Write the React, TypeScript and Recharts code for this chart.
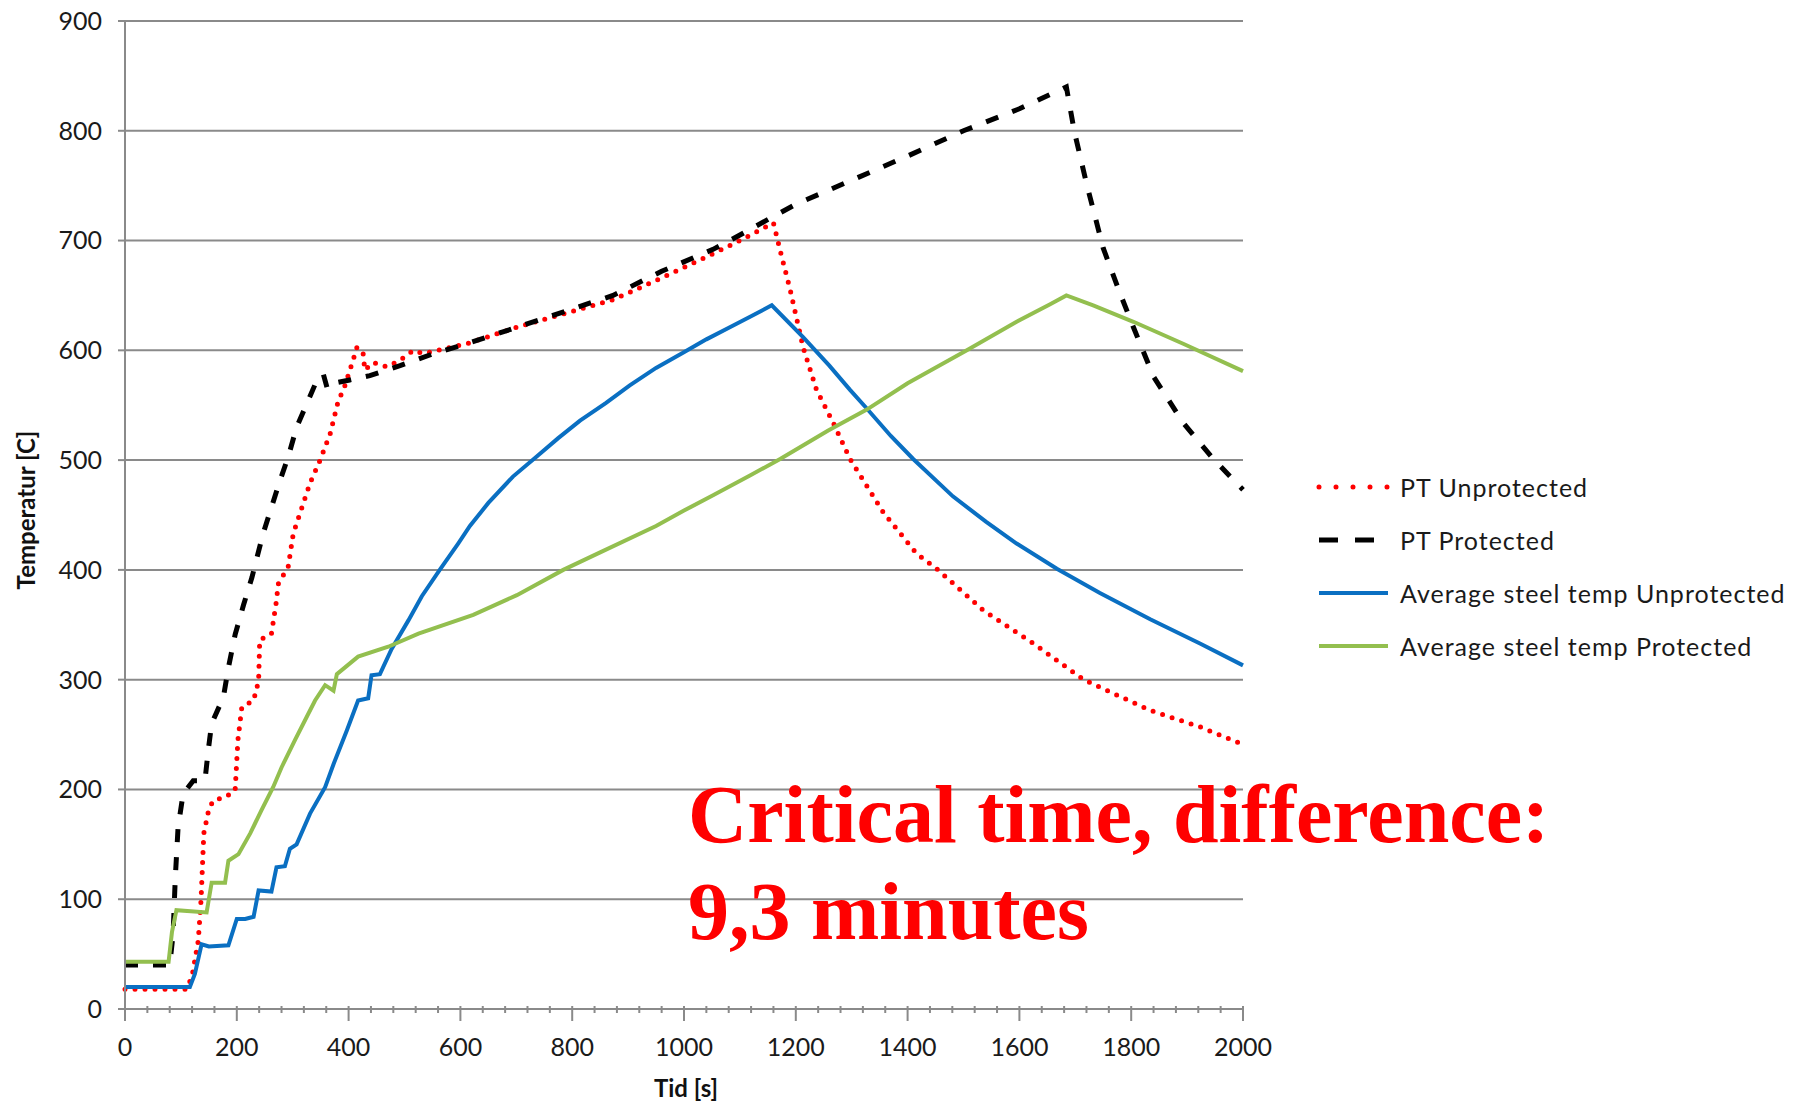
import { LineChart, Line, XAxis, YAxis, CartesianGrid, Legend } from "recharts"

// [time s, temperature C]
const ptUnprotected: [number, number][] = [
  [0, 18], [110, 18], [120, 30], [131, 62], [136, 99], [141, 160], [150, 182], [158, 190],
  [179, 193], [197, 199], [202, 245], [209, 275], [230, 281], [239, 299], [241, 336], [262, 342],
  [271, 372], [274, 387], [292, 403], [301, 433], [331, 479], [349, 500], [367, 524], [382, 555],
  [391, 564], [408, 591], [415, 603], [420, 600], [426, 597], [429, 582], [444, 589], [468, 585],
  [492, 591], [516, 600], [534, 597], [611, 606], [701, 621], [790, 634], [873, 646], [960, 666],
  [1052, 688], [1100, 700], [1160, 716], [1172, 691], [1190, 655], [1213, 603], [1237, 564],
  [1267, 534], [1297, 501], [1357, 452], [1416, 415], [1452, 401], [1536, 363], [1625, 333],
  [1715, 300], [1834, 272], [1923, 257], [2000, 241],
]

const ptProtected: [number, number][] = [
  [0, 40], [80, 40], [86, 68], [90, 120], [95, 166], [104, 196], [122, 208], [143, 208],
  [149, 236], [155, 260], [176, 284], [185, 311], [197, 341], [212, 368], [227, 393], [247, 433],
  [262, 457], [277, 481], [292, 503], [307, 530], [325, 551], [346, 576], [355, 578], [362, 565],
  [373, 570], [402, 573], [438, 577], [492, 586], [552, 597], [611, 606], [701, 621], [790, 636],
  [873, 650], [960, 672], [1052, 692], [1100, 705], [1160, 722], [1200, 733], [1300, 755],
  [1400, 777], [1500, 800], [1600, 820], [1684, 840], [1698, 800], [1720, 752], [1750, 693],
  [1780, 652], [1804, 621], [1840, 576], [1893, 534], [1947, 501], [2000, 473],
]

const steelUnprotected: [number, number][] = [
  [0, 20], [116, 20], [125, 32], [137, 59], [150, 57], [185, 58], [200, 82], [215, 82],
  [230, 84], [239, 108], [262, 107], [271, 129], [286, 130], [295, 146], [307, 150], [331, 178],
  [358, 202], [373, 223], [397, 254], [417, 281], [435, 283], [441, 304], [456, 305], [477, 328],
  [507, 354], [531, 376], [563, 400], [596, 424], [617, 440], [650, 461], [694, 485], [736, 503],
  [775, 520], [814, 536], [860, 552], [903, 568], [950, 584], [999, 598], [1040, 610],
  [1082, 621], [1120, 631], [1157, 641], [1213, 612], [1260, 586], [1297, 564], [1327, 547],
  [1370, 522], [1410, 501], [1481, 467], [1540, 444], [1595, 424], [1667, 401], [1744, 379],
  [1834, 355], [1923, 333], [2000, 313],
]

const steelProtected: [number, number][] = [
  [0, 43], [78, 43], [84, 70], [92, 90], [146, 88], [155, 115], [179, 115], [185, 135],
  [203, 141], [224, 160], [244, 181], [265, 202], [280, 220], [304, 245], [325, 266], [340, 281],
  [358, 295], [373, 290], [379, 305], [417, 321], [471, 330], [525, 342], [623, 359], [701, 377],
  [784, 400], [850, 416], [950, 440], [1000, 454], [1052, 468], [1118, 486], [1172, 501],
  [1258, 527], [1327, 546], [1400, 570], [1506, 600], [1595, 626], [1655, 642], [1684, 650],
  [1732, 641], [1804, 626], [1893, 606], [2000, 581],
]

const yTicks = [0, 100, 200, 300, 400, 500, 600, 700, 800, 900]
const xTicks = Array.from({ length: 51 }, (_, i) => i * 40)

const toPoints = (rows: [number, number][]) => rows.map(([t, v]) => ({ t, v }))

const series = [
  { name: "PT Unprotected", data: toPoints(ptUnprotected), color: "#ff0000", width: 5, dash: "0 10", legendDash: "0 17", cap: "round" },
  { name: "PT Protected", data: toPoints(ptProtected), color: "#000000", width: 5, dash: "13 15", legendDash: "19 17", cap: "butt" },
  { name: "Average steel temp Unprotected", data: toPoints(steelUnprotected), color: "#0a6fc2", width: 4, dash: undefined, legendDash: undefined, cap: "butt" },
  { name: "Average steel temp Protected", data: toPoints(steelProtected), color: "#93bf4f", width: 4, dash: undefined, legendDash: undefined, cap: "butt" },
]

const tickFont = { fontFamily: "Lato, sans-serif", fontSize: 25, fill: "#1a1a1a" }

function XTick(props: any) {
  const { x, y, payload } = props
  const major = payload.value % 200 === 0
  return (
    <g>
      <line x1={x} x2={x} y1={y - 3} y2={y + (major ? 12 : 4)} stroke="#8a8a8a" strokeWidth={2} />
      {major && (
        <text x={x} y={y + 47} textAnchor="middle" {...tickFont}>
          {payload.value}
        </text>
      )}
    </g>
  )
}

function LegendBox() {
  return (
    <div style={{ fontFamily: "Lato, sans-serif", fontSize: 25, letterSpacing: 1, color: "#1a1a1a" }}>
      {series.map(s => (
        <div key={s.name} style={{ display: "flex", alignItems: "center", height: 53 }}>
          <svg width={84} height={12}>
            <line
              x1={3}
              x2={72}
              y1={6}
              y2={6}
              stroke={s.color}
              strokeWidth={s.width}
              strokeDasharray={s.legendDash}
              strokeLinecap={s.cap as any}
            />
          </svg>
          <span style={{ whiteSpace: "nowrap" }}>{s.name}</span>
        </div>
      ))}
    </div>
  )
}

export default function App() {
  return (
    <div style={{ position: "absolute", left: 0, top: 0, width: 1798, height: 1104, background: "#fff" }}>
      <LineChart width={1798} height={1104} margin={{ top: 21, right: 555, left: 0, bottom: 0 }}>
        <CartesianGrid vertical={false} stroke="#8a8a8a" strokeWidth={2} />
        <XAxis
          type="number"
          dataKey="t"
          domain={[0, 2000]}
          ticks={xTicks}
          interval={0}
          height={95}
          tickSize={0}
          tickMargin={0}
          tickLine={false}
          tick={<XTick />}
          axisLine={{ stroke: "#8a8a8a", strokeWidth: 2 }}
          allowDuplicatedCategory={false}
          label={{
            content: () => (
              <text x={686} y={1097} textAnchor="middle" fontFamily="Lato, sans-serif" fontSize={24} fontWeight="bold" fill="#111">
                Tid [s]
              </text>
            ),
          }}
        />
        <YAxis
          type="number"
          domain={[0, 900]}
          ticks={yTicks}
          width={125}
          tickSize={7}
          tickMargin={16}
          tick={tickFont}
          tickLine={{ stroke: "#8a8a8a", strokeWidth: 2 }}
          axisLine={{ stroke: "#8a8a8a", strokeWidth: 2 }}
          label={{
            content: () => (
              <text x={35} y={510} transform="rotate(-90 35 510)" textAnchor="middle" fontFamily="Lato, sans-serif" fontSize={24} fontWeight="bold" fill="#111">
                Temperatur [C]
              </text>
            ),
          }}
        />
        {series.map(s => (
          <Line
            key={s.name}
            data={s.data}
            dataKey="v"
            name={s.name}
            type="linear"
            stroke={s.color}
            strokeWidth={s.width}
            strokeDasharray={s.dash}
            strokeLinecap={s.cap as any}
            dot={false}
            activeDot={false}
            isAnimationActive={false}
          />
        ))}
        <Legend
          layout="vertical"
          align="center"
          verticalAlign="middle"
          content={() => <LegendBox />}
          wrapperStyle={{ left: 1316, top: 460, width: 480 }}
        />
      </LineChart>
      <div
        style={{
          position: "absolute",
          left: 688,
          top: 766,
          fontFamily: "'Liberation Serif', 'Times New Roman', serif",
          fontWeight: "bold",
          fontSize: 82,
          lineHeight: "97px",
          color: "#ff0000",
          whiteSpace: "nowrap",
        }}
      >
        Critical time, difference:
        <br />
        9,3 minutes
      </div>
    </div>
  )
}
